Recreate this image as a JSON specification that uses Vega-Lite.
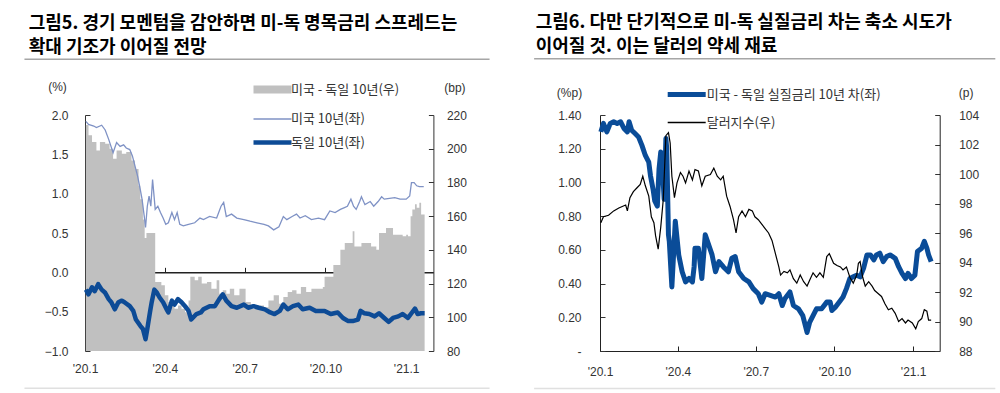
{
"$schema": "https://vega.github.io/schema/vega-lite/v6.json",
"autosize": {"type": "pad"},
"padding": {"left": 23, "top": 14, "right": 0, "bottom": 0},
"spacing": 42,
"config": {
  "font": "Liberation Sans",
  "view": {"stroke": null},
  "axis": {"labelFont": "Liberation Sans", "labelFontSize": 12, "labelColor": "#333", "titleFont": "Liberation Sans", "titleFontSize": 12, "titleFontWeight": "normal", "titleColor": "#333", "domainColor": "#333", "tickColor": "#333", "grid": false},
  "legend": {"symbolType": "M-2,0H2", "symbolSize": 361, "labelFont": "Noto Sans CJK KR", "labelFontSize": 13, "labelColor": "#333", "padding": 0, "labelLimit": 400},
  "title": {"font": "Noto Sans CJK KR", "fontSize": 18, "fontWeight": "bold", "color": "#000", "anchor": "start", "frame": "group", "lineHeight": 24}
},
"resolve": {"scale": {"x": "independent", "y": "independent", "color": "independent"}, "legend": {"color": "independent"}},
"datasets": {
"us": [
{"date":"2020-01-02","v":1.92},{"date":"2020-01-05","v":1.88},{"date":"2020-01-11","v":1.86},{"date":"2020-01-14","v":1.84},{"date":"2020-01-20","v":1.87},{"date":"2020-01-24","v":1.81},{"date":"2020-01-28","v":1.69},{"date":"2020-02-02","v":1.52},{"date":"2020-02-06","v":1.65},{"date":"2020-02-10","v":1.60},{"date":"2020-02-14","v":1.62},{"date":"2020-02-17","v":1.58},{"date":"2020-02-21","v":1.56},{"date":"2020-02-24","v":1.48},{"date":"2020-02-27","v":1.35},{"date":"2020-03-01","v":1.22},{"date":"2020-03-04","v":1.05},{"date":"2020-03-06","v":0.93},{"date":"2020-03-09","v":0.67},{"date":"2020-03-10","v":0.57},{"date":"2020-03-12","v":0.84},{"date":"2020-03-14","v":0.97},{"date":"2020-03-16","v":0.84},{"date":"2020-03-18","v":1.18},{"date":"2020-03-20","v":0.93},{"date":"2020-03-21","v":0.80},{"date":"2020-03-24","v":0.84},{"date":"2020-03-27","v":0.76},{"date":"2020-03-30","v":0.69},{"date":"2020-04-02","v":0.61},{"date":"2020-04-05","v":0.63},{"date":"2020-04-09","v":0.76},{"date":"2020-04-12","v":0.67},{"date":"2020-04-15","v":0.76},{"date":"2020-04-18","v":0.61},{"date":"2020-04-22","v":0.59},{"date":"2020-04-28","v":0.61},{"date":"2020-05-05","v":0.63},{"date":"2020-05-11","v":0.69},{"date":"2020-05-15","v":0.67},{"date":"2020-05-22","v":0.71},{"date":"2020-05-30","v":0.69},{"date":"2020-06-04","v":0.84},{"date":"2020-06-07","v":0.89},{"date":"2020-06-10","v":0.71},{"date":"2020-06-16","v":0.74},{"date":"2020-06-22","v":0.69},{"date":"2020-06-30","v":0.67},{"date":"2020-07-07","v":0.65},{"date":"2020-07-15","v":0.63},{"date":"2020-07-23","v":0.61},{"date":"2020-07-28","v":0.59},{"date":"2020-08-03","v":0.54},{"date":"2020-08-09","v":0.58},{"date":"2020-08-14","v":0.71},{"date":"2020-08-18","v":0.67},{"date":"2020-08-24","v":0.71},{"date":"2020-08-29","v":0.74},{"date":"2020-09-02","v":0.69},{"date":"2020-09-08","v":0.72},{"date":"2020-09-15","v":0.67},{"date":"2020-09-23","v":0.69},{"date":"2020-09-30","v":0.67},{"date":"2020-10-06","v":0.78},{"date":"2020-10-12","v":0.76},{"date":"2020-10-18","v":0.80},{"date":"2020-10-22","v":0.82},{"date":"2020-10-26","v":0.84},{"date":"2020-10-30","v":0.93},{"date":"2020-11-02","v":0.84},{"date":"2020-11-05","v":0.80},{"date":"2020-11-09","v":0.90},{"date":"2020-11-11","v":0.96},{"date":"2020-11-15","v":0.86},{"date":"2020-11-21","v":0.90},{"date":"2020-11-25","v":0.84},{"date":"2020-11-30","v":0.90},{"date":"2020-12-04","v":0.96},{"date":"2020-12-07","v":0.93},{"date":"2020-12-13","v":0.94},{"date":"2020-12-19","v":0.95},{"date":"2020-12-25","v":0.93},{"date":"2021-01-01","v":0.93},{"date":"2021-01-05","v":0.97},{"date":"2021-01-07","v":1.14},{"date":"2021-01-10","v":1.14},{"date":"2021-01-13","v":1.10},{"date":"2021-01-16","v":1.09},{"date":"2021-01-21","v":1.09}
],
"de": [
{"date":"2020-01-02","v":-0.22},{"date":"2020-01-05","v":-0.28},{"date":"2020-01-09","v":-0.19},{"date":"2020-01-12","v":-0.24},{"date":"2020-01-16","v":-0.15},{"date":"2020-01-20","v":-0.22},{"date":"2020-01-24","v":-0.26},{"date":"2020-01-28","v":-0.34},{"date":"2020-01-31","v":-0.38},{"date":"2020-02-04","v":-0.47},{"date":"2020-02-08","v":-0.38},{"date":"2020-02-12","v":-0.36},{"date":"2020-02-15","v":-0.38},{"date":"2020-02-21","v":-0.43},{"date":"2020-02-25","v":-0.49},{"date":"2020-02-28","v":-0.60},{"date":"2020-03-04","v":-0.68},{"date":"2020-03-07","v":-0.72},{"date":"2020-03-10","v":-0.85},{"date":"2020-03-12","v":-0.72},{"date":"2020-03-15","v":-0.51},{"date":"2020-03-17","v":-0.38},{"date":"2020-03-20","v":-0.22},{"date":"2020-03-23","v":-0.26},{"date":"2020-03-26","v":-0.32},{"date":"2020-03-30","v":-0.38},{"date":"2020-04-03","v":-0.47},{"date":"2020-04-05","v":-0.51},{"date":"2020-04-09","v":-0.36},{"date":"2020-04-12","v":-0.41},{"date":"2020-04-16","v":-0.34},{"date":"2020-04-20","v":-0.38},{"date":"2020-04-24","v":-0.43},{"date":"2020-04-28","v":-0.49},{"date":"2020-05-01","v":-0.60},{"date":"2020-05-07","v":-0.53},{"date":"2020-05-12","v":-0.51},{"date":"2020-05-15","v":-0.47},{"date":"2020-05-22","v":-0.43},{"date":"2020-05-28","v":-0.43},{"date":"2020-06-02","v":-0.34},{"date":"2020-06-06","v":-0.28},{"date":"2020-06-10","v":-0.36},{"date":"2020-06-16","v":-0.43},{"date":"2020-06-22","v":-0.45},{"date":"2020-06-30","v":-0.41},{"date":"2020-07-05","v":-0.45},{"date":"2020-07-11","v":-0.43},{"date":"2020-07-17","v":-0.45},{"date":"2020-07-24","v":-0.47},{"date":"2020-07-30","v":-0.51},{"date":"2020-08-04","v":-0.53},{"date":"2020-08-10","v":-0.49},{"date":"2020-08-14","v":-0.41},{"date":"2020-08-19","v":-0.47},{"date":"2020-08-25","v":-0.43},{"date":"2020-08-31","v":-0.41},{"date":"2020-09-05","v":-0.47},{"date":"2020-09-13","v":-0.45},{"date":"2020-09-20","v":-0.49},{"date":"2020-09-30","v":-0.49},{"date":"2020-10-07","v":-0.53},{"date":"2020-10-15","v":-0.51},{"date":"2020-10-21","v":-0.58},{"date":"2020-10-27","v":-0.62},{"date":"2020-11-01","v":-0.62},{"date":"2020-11-07","v":-0.60},{"date":"2020-11-10","v":-0.49},{"date":"2020-11-14","v":-0.52},{"date":"2020-11-20","v":-0.53},{"date":"2020-11-26","v":-0.56},{"date":"2020-12-01","v":-0.52},{"date":"2020-12-07","v":-0.58},{"date":"2020-12-12","v":-0.63},{"date":"2020-12-17","v":-0.58},{"date":"2020-12-23","v":-0.56},{"date":"2020-12-28","v":-0.53},{"date":"2021-01-03","v":-0.58},{"date":"2021-01-07","v":-0.52},{"date":"2021-01-11","v":-0.46},{"date":"2021-01-14","v":-0.53},{"date":"2021-01-18","v":-0.52},{"date":"2021-01-22","v":-0.52}
],
"spread": [
{"date":"2020-01-02","v":214},{"date":"2020-01-05","v":208},{"date":"2020-01-09","v":204},{"date":"2020-01-14","v":199},{"date":"2020-01-18","v":204},{"date":"2020-01-24","v":203},{"date":"2020-01-29","v":200},{"date":"2020-02-02","v":194},{"date":"2020-02-06","v":199},{"date":"2020-02-12","v":197},{"date":"2020-02-17","v":198},{"date":"2020-02-23","v":193},{"date":"2020-02-27","v":188},{"date":"2020-03-02","v":178},{"date":"2020-03-04","v":170},{"date":"2020-03-07","v":158},{"date":"2020-03-09","v":147},{"date":"2020-03-11","v":150},{"date":"2020-03-15","v":150},{"date":"2020-03-18","v":150},{"date":"2020-03-20","v":150},{"date":"2020-03-21","v":121},{"date":"2020-03-24","v":121},{"date":"2020-03-28","v":119},{"date":"2020-04-01","v":113},{"date":"2020-04-05","v":109},{"date":"2020-04-09","v":107},{"date":"2020-04-12","v":105},{"date":"2020-04-16","v":107},{"date":"2020-04-20","v":105},{"date":"2020-04-24","v":103},{"date":"2020-04-28","v":110},{"date":"2020-04-30","v":124},{"date":"2020-05-05","v":122},{"date":"2020-05-09","v":124},{"date":"2020-05-13","v":120},{"date":"2020-05-19","v":121},{"date":"2020-05-24","v":117},{"date":"2020-05-30","v":122},{"date":"2020-06-02","v":114},{"date":"2020-06-06","v":116},{"date":"2020-06-10","v":114},{"date":"2020-06-14","v":117},{"date":"2020-06-19","v":113},{"date":"2020-06-25","v":117},{"date":"2020-07-02","v":109},{"date":"2020-07-08","v":105},{"date":"2020-07-15","v":107},{"date":"2020-07-23","v":106},{"date":"2020-07-28","v":110},{"date":"2020-08-03","v":113},{"date":"2020-08-09","v":108},{"date":"2020-08-14","v":112},{"date":"2020-08-19","v":115},{"date":"2020-08-24","v":116},{"date":"2020-08-29","v":114},{"date":"2020-09-03","v":118},{"date":"2020-09-09","v":115},{"date":"2020-09-15","v":117},{"date":"2020-09-23","v":117},{"date":"2020-09-28","v":118},{"date":"2020-09-30","v":124},{"date":"2020-10-06","v":124},{"date":"2020-10-10","v":131},{"date":"2020-10-13","v":131},{"date":"2020-10-18","v":140},{"date":"2020-10-23","v":144},{"date":"2020-10-30","v":144},{"date":"2020-11-01","v":151},{"date":"2020-11-03","v":142},{"date":"2020-11-07","v":142},{"date":"2020-11-11","v":144},{"date":"2020-11-16","v":144},{"date":"2020-11-22","v":142},{"date":"2020-11-28","v":140},{"date":"2020-12-01","v":150},{"date":"2020-12-05","v":150},{"date":"2020-12-09","v":153},{"date":"2020-12-13","v":153},{"date":"2020-12-17","v":149},{"date":"2020-12-23","v":149},{"date":"2020-12-28","v":148},{"date":"2021-01-01","v":149},{"date":"2021-01-03","v":148},{"date":"2021-01-06","v":160},{"date":"2021-01-08","v":164},{"date":"2021-01-11","v":167},{"date":"2021-01-13","v":165},{"date":"2021-01-16","v":168},{"date":"2021-01-18","v":161},{"date":"2021-01-22","v":161}
],
"real": [
{"date":"2020-01-02","v":1.30},{"date":"2020-01-05","v":1.35},{"date":"2020-01-09","v":1.30},{"date":"2020-01-13","v":1.35},{"date":"2020-01-17","v":1.36},{"date":"2020-01-21","v":1.35},{"date":"2020-01-25","v":1.36},{"date":"2020-01-29","v":1.32},{"date":"2020-02-02","v":1.30},{"date":"2020-02-04","v":1.36},{"date":"2020-02-07","v":1.31},{"date":"2020-02-11","v":1.29},{"date":"2020-02-15","v":1.27},{"date":"2020-02-19","v":1.22},{"date":"2020-02-23","v":1.16},{"date":"2020-02-27","v":1.12},{"date":"2020-02-29","v":1.04},{"date":"2020-03-03","v":0.96},{"date":"2020-03-05","v":0.89},{"date":"2020-03-08","v":0.86},{"date":"2020-03-10","v":1.08},{"date":"2020-03-12","v":1.18},{"date":"2020-03-14","v":1.08},{"date":"2020-03-16","v":0.90},{"date":"2020-03-18","v":1.26},{"date":"2020-03-19","v":1.20},{"date":"2020-03-21","v":0.69},{"date":"2020-03-22","v":0.65},{"date":"2020-03-25","v":0.38},{"date":"2020-03-29","v":0.77},{"date":"2020-04-02","v":0.57},{"date":"2020-04-06","v":0.47},{"date":"2020-04-10","v":0.41},{"date":"2020-04-14","v":0.43},{"date":"2020-04-18","v":0.41},{"date":"2020-04-20","v":0.50},{"date":"2020-04-21","v":0.61},{"date":"2020-04-25","v":0.61},{"date":"2020-04-29","v":0.43},{"date":"2020-05-03","v":0.69},{"date":"2020-05-07","v":0.63},{"date":"2020-05-11","v":0.57},{"date":"2020-05-15","v":0.47},{"date":"2020-05-19","v":0.53},{"date":"2020-05-24","v":0.50},{"date":"2020-05-30","v":0.47},{"date":"2020-06-03","v":0.55},{"date":"2020-06-07","v":0.56},{"date":"2020-06-11","v":0.47},{"date":"2020-06-17","v":0.43},{"date":"2020-06-23","v":0.41},{"date":"2020-06-28","v":0.37},{"date":"2020-07-04","v":0.34},{"date":"2020-07-08","v":0.29},{"date":"2020-07-12","v":0.34},{"date":"2020-07-18","v":0.33},{"date":"2020-07-24","v":0.32},{"date":"2020-07-28","v":0.34},{"date":"2020-08-01","v":0.27},{"date":"2020-08-04","v":0.31},{"date":"2020-08-10","v":0.35},{"date":"2020-08-14","v":0.27},{"date":"2020-08-20","v":0.25},{"date":"2020-08-25","v":0.21},{"date":"2020-08-30","v":0.11},{"date":"2020-09-02","v":0.17},{"date":"2020-09-06","v":0.21},{"date":"2020-09-10","v":0.25},{"date":"2020-09-16","v":0.25},{"date":"2020-09-22","v":0.29},{"date":"2020-09-26","v":0.29},{"date":"2020-09-28","v":0.24},{"date":"2020-10-02","v":0.26},{"date":"2020-10-08","v":0.30},{"date":"2020-10-11","v":0.32},{"date":"2020-10-15","v":0.37},{"date":"2020-10-19","v":0.43},{"date":"2020-10-23","v":0.44},{"date":"2020-10-27","v":0.45},{"date":"2020-10-31","v":0.44},{"date":"2020-11-04","v":0.49},{"date":"2020-11-08","v":0.57},{"date":"2020-11-12","v":0.57},{"date":"2020-11-16","v":0.54},{"date":"2020-11-19","v":0.57},{"date":"2020-11-23","v":0.58},{"date":"2020-11-27","v":0.53},{"date":"2020-12-01","v":0.56},{"date":"2020-12-05","v":0.57},{"date":"2020-12-11","v":0.55},{"date":"2020-12-15","v":0.50},{"date":"2020-12-19","v":0.46},{"date":"2020-12-23","v":0.43},{"date":"2020-12-26","v":0.46},{"date":"2020-12-30","v":0.43},{"date":"2021-01-03","v":0.45},{"date":"2021-01-06","v":0.59},{"date":"2021-01-11","v":0.61},{"date":"2021-01-14","v":0.65},{"date":"2021-01-17","v":0.61},{"date":"2021-01-19","v":0.57},{"date":"2021-01-22","v":0.53}
],
"dxy": [
{"date":"2020-01-02","v":96.7},{"date":"2020-01-05","v":97.1},{"date":"2020-01-11","v":97.2},{"date":"2020-01-17","v":97.5},{"date":"2020-01-23","v":97.7},{"date":"2020-01-27","v":97.8},{"date":"2020-01-31","v":97.9},{"date":"2020-02-02","v":97.5},{"date":"2020-02-05","v":98.4},{"date":"2020-02-09","v":98.8},{"date":"2020-02-13","v":99.05},{"date":"2020-02-17","v":99.3},{"date":"2020-02-20","v":99.85},{"date":"2020-02-23","v":99.2},{"date":"2020-02-27","v":98.5},{"date":"2020-03-01","v":97.1},{"date":"2020-03-04","v":96.7},{"date":"2020-03-06","v":95.8},{"date":"2020-03-09","v":94.9},{"date":"2020-03-12","v":96.4},{"date":"2020-03-15","v":98.3},{"date":"2020-03-18","v":102.6},{"date":"2020-03-21","v":102.8},{"date":"2020-03-23","v":102.1},{"date":"2020-03-25","v":99.85},{"date":"2020-03-28","v":98.4},{"date":"2020-03-31","v":99.4},{"date":"2020-04-04","v":100.1},{"date":"2020-04-07","v":99.85},{"date":"2020-04-10","v":99.4},{"date":"2020-04-14","v":100.2},{"date":"2020-04-18","v":99.6},{"date":"2020-04-21","v":100.3},{"date":"2020-04-25","v":100.2},{"date":"2020-04-29","v":99.2},{"date":"2020-05-03","v":99.85},{"date":"2020-05-09","v":99.96},{"date":"2020-05-13","v":100.4},{"date":"2020-05-17","v":99.85},{"date":"2020-05-21","v":99.6},{"date":"2020-05-24","v":99.85},{"date":"2020-05-28","v":98.5},{"date":"2020-06-01","v":97.8},{"date":"2020-06-05","v":96.9},{"date":"2020-06-08","v":96.0},{"date":"2020-06-11","v":97.1},{"date":"2020-06-15","v":97.5},{"date":"2020-06-19","v":97.1},{"date":"2020-06-23","v":97.6},{"date":"2020-06-27","v":97.5},{"date":"2020-06-30","v":97.1},{"date":"2020-07-04","v":96.9},{"date":"2020-07-08","v":96.6},{"date":"2020-07-12","v":96.3},{"date":"2020-07-16","v":96.0},{"date":"2020-07-20","v":95.5},{"date":"2020-07-24","v":94.6},{"date":"2020-07-28","v":93.7},{"date":"2020-07-30","v":93.15},{"date":"2020-08-03","v":93.4},{"date":"2020-08-07","v":93.3},{"date":"2020-08-10","v":93.5},{"date":"2020-08-14","v":92.9},{"date":"2020-08-18","v":92.6},{"date":"2020-08-22","v":93.15},{"date":"2020-08-26","v":92.7},{"date":"2020-08-30","v":92.4},{"date":"2020-09-02","v":92.8},{"date":"2020-09-06","v":93.3},{"date":"2020-09-10","v":93.0},{"date":"2020-09-14","v":93.3},{"date":"2020-09-18","v":93.0},{"date":"2020-09-22","v":94.4},{"date":"2020-09-25","v":94.6},{"date":"2020-09-30","v":93.95},{"date":"2020-10-04","v":93.8},{"date":"2020-10-08","v":93.7},{"date":"2020-10-11","v":93.5},{"date":"2020-10-15","v":93.7},{"date":"2020-10-19","v":93.0},{"date":"2020-10-23","v":92.6},{"date":"2020-10-27","v":93.15},{"date":"2020-10-29","v":93.95},{"date":"2020-10-31","v":94.07},{"date":"2020-11-03","v":93.0},{"date":"2020-11-06","v":92.4},{"date":"2020-11-10","v":92.7},{"date":"2020-11-14","v":92.4},{"date":"2020-11-17","v":92.1},{"date":"2020-11-21","v":91.9},{"date":"2020-11-25","v":91.7},{"date":"2020-11-29","v":91.2},{"date":"2020-12-03","v":90.8},{"date":"2020-12-07","v":90.9},{"date":"2020-12-11","v":90.55},{"date":"2020-12-15","v":90.0},{"date":"2020-12-19","v":90.2},{"date":"2020-12-23","v":89.9},{"date":"2020-12-26","v":90.1},{"date":"2020-12-31","v":89.9},{"date":"2021-01-04","v":89.5},{"date":"2021-01-07","v":90.0},{"date":"2021-01-11","v":90.2},{"date":"2021-01-14","v":90.8},{"date":"2021-01-17","v":90.7},{"date":"2021-01-19","v":90.1},{"date":"2021-01-22","v":90.1}
]
},
"hconcat": [
{
  "width": 348.4,
  "height": 236,
  "title": {"text": ["그림5. 경기 모멘텀을 감안하면 미-독 명목금리 스프레드는", "확대 기조가 이어질 전망"], "dx": -56.3, "offset": 2},
  "resolve": {"scale": {"y": "independent"}, "axis": {"x": "independent", "y": "independent"}},
  "layer": [
    {
      "data": {"values": [{}]},
      "mark": {"type": "rule", "stroke": "#a6a6a6", "strokeWidth": 1.5},
      "encoding": {
        "x": {"datum": {"year": 2019, "month": 10, "date": 24}, "type": "temporal", "scale": {"domain": [{"year":2020,"month":1,"date":1},{"year":2021,"month":2,"date":1}]}, "axis": null},
        "x2": {"datum": {"year": 2021, "month": 4, "date": 6}},
        "y": {"datum": 2.708, "type": "quantitative", "scale": {"domain": [-1, 2]}, "axis": null}
      }
    },
    {
      "data": {"values": [{}]},
      "mark": {"type": "rule", "stroke": "#e0e0e0", "strokeWidth": 1.5},
      "encoding": {
        "x": {"datum": {"year": 2019, "month": 10, "date": 24}, "type": "temporal", "scale": {"domain": [{"year":2020,"month":1,"date":1},{"year":2021,"month":2,"date":1}]}, "axis": null},
        "x2": {"datum": {"year": 2021, "month": 4, "date": 6}},
        "y": {"datum": -1.474, "type": "quantitative", "scale": {"domain": [-1, 2]}, "axis": null}
      }
    },
    {
      "data": {"name": "spread"},
      "mark": {"type": "area", "interpolate": "step-after", "opacity": 1},
      "encoding": {
        "x": {"field": "date", "type": "temporal", "scale": {"domain": [{"year":2020,"month":1,"date":1},{"year":2021,"month":2,"date":1}]},
              "axis": {"orient": "bottom", "values": [{"year":2020,"month":1,"date":1},{"year":2020,"month":4,"date":1},{"year":2020,"month":7,"date":1},{"year":2020,"month":10,"date":1},{"year":2021,"month":1,"date":1}],
                       "labelExpr": "\"'\" + timeFormat(datum.value, '%y') + '.' + (month(datum.value) + 1)", "domain": false, "ticks": false, "tickSize": 0, "labelPadding": 12, "labelFlush": false, "title": null}},
        "y": {"field": "v", "type": "quantitative", "scale": {"domain": [80, 220], "zero": false, "nice": false},
              "axis": {"orient": "right", "values": [80,100,120,140,160,180,200,220], "tickSize": -5, "labelPadding": 18, "title": "(bp)", "titleAngle": 0, "titleX": 21, "titleY": -28, "titleAlign": "center", "titleBaseline": "middle"}},
        "y2": {"datum": 80},
        "color": {"datum": "미국 - 독일 10년(우)", "type": "nominal",
                  "scale": {"domain": ["미국 - 독일 10년(우)", "미국 10년(좌)", "독일 10년(좌)"], "range": ["#c0c0c0", "#7f92c5", "#0d4b96"]},
                  "legend": {"orient": "none", "legendX": 181, "legendY": -32, "title": null, "labelOffset": 12, "rowPadding": 6.5,
                             "encode": {"symbols": {"update": {
                               "stroke": {"signal": "datum.value === '미국 10년(좌)' ? '#7f92c5' : datum.value === '독일 10년(좌)' ? '#0d4b96' : '#c0c0c0'"},
                               "strokeWidth": {"signal": "datum.value === '미국 10년(좌)' ? 1.3 : datum.value === '독일 10년(좌)' ? 4.5 : 8"},
                               "fill": {"value": "transparent"}, "opacity": {"value": 1}}}}}}
      }
    },
    {
      "data": {"name": "us"},
      "mark": {"type": "line", "strokeWidth": 1.3},
      "encoding": {
        "x": {"field": "date", "type": "temporal", "scale": {"domain": [{"year":2020,"month":1,"date":1},{"year":2021,"month":2,"date":1}]},
              "axis": {"orient": "top", "offset": -157.33, "values": [{"year":2020,"month":1,"date":1},{"year":2020,"month":4,"date":1},{"year":2020,"month":7,"date":1},{"year":2020,"month":10,"date":1},{"year":2021,"month":1,"date":1}],
                       "labels": false, "domain": true, "domainColor": "#222", "domainWidth": 1.5, "ticks": true, "tickSize": 5, "tickColor": "#222", "title": null}},
        "y": {"field": "v", "type": "quantitative", "scale": {"domain": [-1, 2], "nice": false},
              "axis": {"orient": "left", "values": [-1, -0.5, 0, 0.5, 1, 1.5, 2], "format": ".1f", "tickSize": -5, "labelPadding": 22, "title": "(%)", "titleAngle": 0, "titleX": -28, "titleY": -29, "titleAlign": "center", "titleBaseline": "middle"}},
        "color": {"datum": "미국 10년(좌)", "type": "nominal",
                  "scale": {"domain": ["미국 - 독일 10년(우)", "미국 10년(좌)", "독일 10년(좌)"], "range": ["#c0c0c0", "#7f92c5", "#0d4b96"]},
                  "legend": {"orient": "none", "legendX": 181, "legendY": -32, "title": null, "labelOffset": 12, "rowPadding": 6.5,
                             "encode": {"symbols": {"update": {
                               "stroke": {"signal": "datum.value === '미국 10년(좌)' ? '#7f92c5' : datum.value === '독일 10년(좌)' ? '#0d4b96' : '#c0c0c0'"},
                               "strokeWidth": {"signal": "datum.value === '미국 10년(좌)' ? 1.3 : datum.value === '독일 10년(좌)' ? 4.5 : 8"},
                               "fill": {"value": "transparent"}, "opacity": {"value": 1}}}}}}
      }
    },
    {
      "data": {"name": "de"},
      "mark": {"type": "line", "strokeWidth": 4.5, "strokeJoin": "round"},
      "encoding": {
        "x": {"field": "date", "type": "temporal", "scale": {"domain": [{"year":2020,"month":1,"date":1},{"year":2021,"month":2,"date":1}]}, "axis": null},
        "y": {"field": "v", "type": "quantitative", "scale": {"domain": [-1, 2], "nice": false}, "axis": null},
        "color": {"datum": "독일 10년(좌)", "type": "nominal",
                  "scale": {"domain": ["미국 - 독일 10년(우)", "미국 10년(좌)", "독일 10년(좌)"], "range": ["#c0c0c0", "#7f92c5", "#0d4b96"]},
                  "legend": {"orient": "none", "legendX": 181, "legendY": -32, "title": null, "labelOffset": 12, "rowPadding": 6.5,
                             "encode": {"symbols": {"update": {
                               "stroke": {"signal": "datum.value === '미국 10년(좌)' ? '#7f92c5' : datum.value === '독일 10년(좌)' ? '#0d4b96' : '#c0c0c0'"},
                               "strokeWidth": {"signal": "datum.value === '미국 10년(좌)' ? 1.3 : datum.value === '독일 10년(좌)' ? 4.5 : 8"},
                               "fill": {"value": "transparent"}, "opacity": {"value": 1}}}}}}
      }
    }
  ]
},
{
  "width": 339.7,
  "height": 236,
  "title": {"text": ["그림6. 다만 단기적으로 미-독 실질금리 차는 축소 시도가", "이어질 것. 이는 달러의 약세 재료"], "dx": -64.3, "offset": 2},
  "resolve": {"scale": {"y": "independent"}, "axis": {"x": "independent", "y": "independent"}},
  "layer": [
    {
      "data": {"values": [{}]},
      "mark": {"type": "rule", "stroke": "#a6a6a6", "strokeWidth": 1.5},
      "encoding": {
        "x": {"datum": {"year": 2019, "month": 10, "date": 16}, "type": "temporal", "scale": {"domain": [{"year":2020,"month":1,"date":1},{"year":2021,"month":2,"date":1}]}, "axis": null},
        "x2": {"datum": {"year": 2021, "month": 4, "date": 7}},
        "y": {"datum": 1.733, "type": "quantitative", "scale": {"domain": [0, 1.4]}, "axis": null}
      }
    },
    {
      "data": {"values": [{}]},
      "mark": {"type": "rule", "stroke": "#e0e0e0", "strokeWidth": 1.5},
      "encoding": {
        "x": {"datum": {"year": 2019, "month": 10, "date": 16}, "type": "temporal", "scale": {"domain": [{"year":2020,"month":1,"date":1},{"year":2021,"month":2,"date":1}]}, "axis": null},
        "x2": {"datum": {"year": 2021, "month": 4, "date": 7}},
        "y": {"datum": -0.223, "type": "quantitative", "scale": {"domain": [0, 1.4]}, "axis": null}
      }
    },
    {
      "data": {"name": "real"},
      "mark": {"type": "line", "strokeWidth": 5, "strokeJoin": "round"},
      "encoding": {
        "x": {"field": "date", "type": "temporal", "scale": {"domain": [{"year":2020,"month":1,"date":1},{"year":2021,"month":2,"date":1}]},
              "axis": {"orient": "bottom", "values": [{"year":2020,"month":1,"date":1},{"year":2020,"month":4,"date":1},{"year":2020,"month":7,"date":1},{"year":2020,"month":10,"date":1},{"year":2021,"month":1,"date":1}],
                       "labelExpr": "\"'\" + timeFormat(datum.value, '%y') + '.' + (month(datum.value) + 1)", "domain": true, "domainColor": "#222", "ticks": true, "tickSize": -5, "tickColor": "#222", "labelPadding": 20, "labelFlush": false, "title": null}},
        "y": {"field": "v", "type": "quantitative", "scale": {"domain": [0, 1.4], "nice": false},
              "axis": {"orient": "left", "values": [0, 0.2, 0.4, 0.6, 0.8, 1.0, 1.2, 1.4], "labelExpr": "datum.value == 0 ? '-\u00a0\u00a0\u00a0' : format(datum.value, '.2f')", "domainColor": "#222", "tickSize": -5, "labelPadding": 24, "title": "(%p)", "titleAngle": 0, "titleX": -31, "titleY": -23, "titleAlign": "center", "titleBaseline": "middle"}},
        "color": {"datum": "미국 - 독일 실질금리 10년 차(좌)", "type": "nominal",
                  "scale": {"domain": ["미국 - 독일 실질금리 10년 차(좌)", "달러지수(우)"], "range": ["#0a4c98", "#000000"]},
                  "legend": {"orient": "none", "legendX": 80.2, "legendY": -27, "title": null, "labelOffset": 13.5, "rowPadding": 11,
                             "encode": {"symbols": {"update": {
                               "stroke": {"signal": "datum.value === '달러지수(우)' ? '#000000' : '#0a4c98'"},
                               "strokeWidth": {"signal": "datum.value === '달러지수(우)' ? 1.3 : 5"},
                               "fill": {"value": "transparent"}, "opacity": {"value": 1}}}}}}
      }
    },
    {
      "data": {"name": "dxy"},
      "mark": {"type": "line", "strokeWidth": 1.2},
      "encoding": {
        "x": {"field": "date", "type": "temporal", "scale": {"domain": [{"year":2020,"month":1,"date":1},{"year":2021,"month":2,"date":1}]}, "axis": null},
        "y": {"field": "v", "type": "quantitative", "scale": {"domain": [88, 104], "zero": false, "nice": false},
              "axis": {"orient": "right", "values": [88, 90, 92, 94, 96, 98, 100, 102, 104], "domainColor": "#222", "tickSize": -5, "labelPadding": 24, "title": "(p)", "titleAngle": 0, "titleX": 26, "titleY": -23, "titleAlign": "center", "titleBaseline": "middle"}},
        "color": {"datum": "달러지수(우)", "type": "nominal",
                  "scale": {"domain": ["미국 - 독일 실질금리 10년 차(좌)", "달러지수(우)"], "range": ["#0a4c98", "#000000"]},
                  "legend": {"orient": "none", "legendX": 80.2, "legendY": -27, "title": null, "labelOffset": 13.5, "rowPadding": 11,
                             "encode": {"symbols": {"update": {
                               "stroke": {"signal": "datum.value === '달러지수(우)' ? '#000000' : '#0a4c98'"},
                               "strokeWidth": {"signal": "datum.value === '달러지수(우)' ? 1.3 : 5"},
                               "fill": {"value": "transparent"}, "opacity": {"value": 1}}}}}}
      }
    }
  ]
}
]
}
